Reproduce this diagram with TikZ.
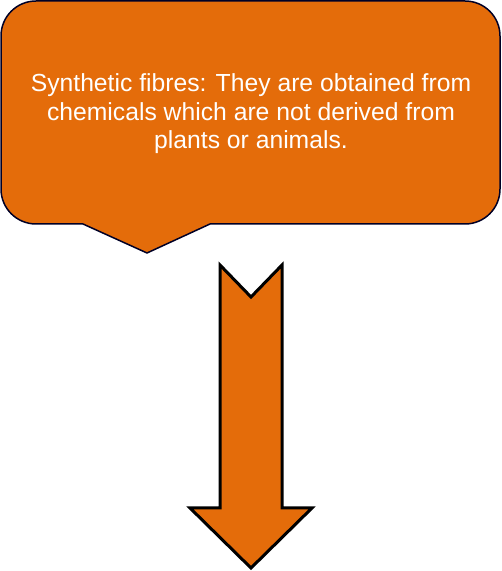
\documentclass[tikz,border=0pt]{standalone}
\usepackage{fontspec}
\setmainfont{Liberation Sans}
\usepackage{xcolor}
\definecolor{fibreorange}{HTML}{E46C0A}
\begin{document}
\begin{tikzpicture}[x=1bp,y=1bp]
            \useasboundingbox (0,0) rectangle (502,571);
            \draw[fill=fibreorange,draw=black!85!blue,line width=1.5bp] (147,318) -- (210,347) -- (465,347) arc[start angle=-90,end angle=0,radius=35] -- (500,535) arc[start angle=0,end angle=90,radius=35] -- (36,570) arc[start angle=90,end angle=180,radius=35] -- (1,382) arc[start angle=180,end angle=270,radius=35] -- (83,347) -- cycle;
            \node[text=white,align=center,font=\fontsize{24.8}{28.5}\selectfont] (callout) at (251,457) {Synthetic fibres: They are obtained from\\chemicals which are not derived from\\plants or animals.};
            \draw[fill=fibreorange,line width=3bp,line join=miter] (220,306) -- (251,274) -- (282,306) -- (282,63) -- (312,63) -- (251,3) -- (190,63) -- (220,63) -- cycle;
        \end{tikzpicture}
\end{document}
